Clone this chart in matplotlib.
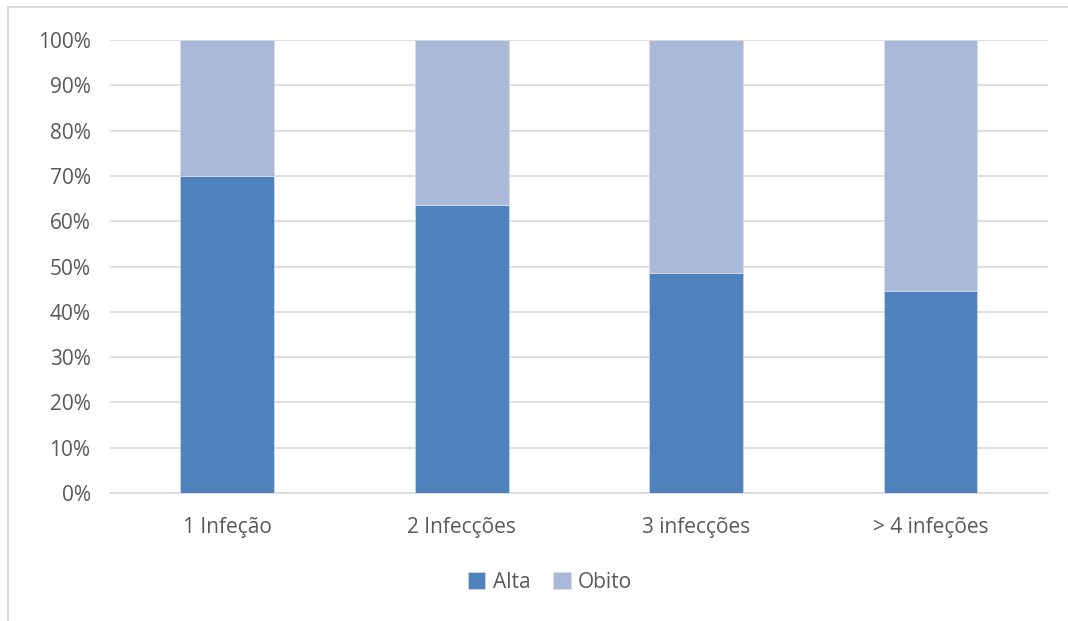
import matplotlib.pyplot as plt
from matplotlib.patches import Rectangle
from matplotlib.ticker import PercentFormatter
import numpy as np

# categorias e proporções (%)
categorias = ['1 Infeção', '2 Infecções', '3 infecções', '> 4 infeções']
alta = [70.0, 63.5, 48.6, 44.7]
obito = [100 - v for v in alta]

cor_alta = '#4F81BD'
cor_obito = '#AAB9D7'
cor_texto = '#595959'

plt.rcParams['font.family'] = ['Open Sans', 'DejaVu Sans']

fig = plt.figure(figsize=(10.68, 6.21), dpi=100)
ax = fig.add_axes([0.103, 0.206, 0.878, 0.7296])

# moldura do gráfico
fig.patches.append(Rectangle((8 / 1068, -0.1), 1.2, 1 - 7 / 621 + 0.1, transform=fig.transFigure,
                             fill=False, edgecolor='#D9D9D9', linewidth=1.5))

x = np.arange(len(categorias))
ax.bar(x, alta, width=0.4, color=cor_alta, edgecolor='#C9D6EA', linewidth=0.6, label='Alta', zorder=3)
ax.bar(x, obito, width=0.4, bottom=alta, color=cor_obito, edgecolor='#D6DEEE', linewidth=0.6,
       label='Obito', zorder=3)

ax.set_xlim(-0.5, len(categorias) - 0.5)
ax.set_ylim(0, 100)
ax.set_yticks(np.arange(0, 101, 10))
ax.yaxis.set_major_formatter(PercentFormatter(decimals=0))
ax.set_xticks(x)
ax.set_xticklabels(categorias)

ax.grid(axis='y', color='#D9D9D9', linewidth=1.2, zorder=0)
for s in ['top', 'right', 'left']:
    ax.spines[s].set_visible(False)
ax.spines['bottom'].set_color('#D9D9D9')
ax.spines['bottom'].set_linewidth(1.2)
ax.tick_params(axis='both', length=0, labelsize=15, colors=cor_texto)
ax.tick_params(axis='x', pad=17)
ax.tick_params(axis='y', pad=14)

leg = fig.legend(loc='center', bbox_to_anchor=(0.515, 0.062), ncol=2, frameon=False, fontsize=15,
                 handlelength=0.85, handleheight=0.85, handletextpad=0.35, columnspacing=1.1)
for t in leg.get_texts():
    t.set_color(cor_texto)

fig.savefig('out.png', dpi=100, facecolor='white')
